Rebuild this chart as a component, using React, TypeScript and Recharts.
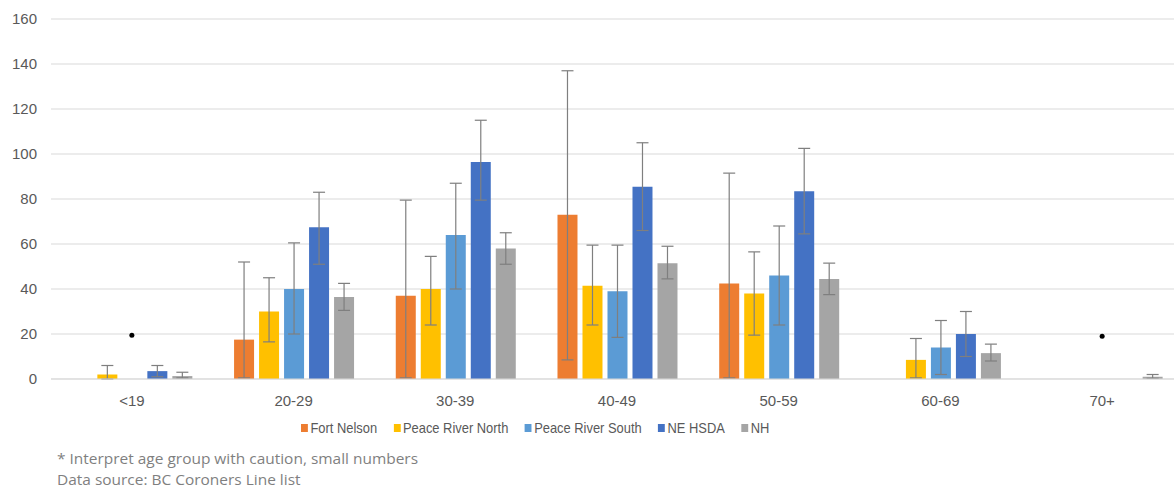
import { ComposedChart, Bar, Line, ErrorBar, XAxis, YAxis, CartesianGrid } from "recharts";

const categories = ["<19", "20-29", "30-39", "40-49", "50-59", "60-69", "70+"];

const fortNelson = [null, 17.5, 37, 73, 42.5, null, null];
const fortNelsonLow = [null, 0.5, 0.5, 8.5, 0.5, null, null];
const fortNelsonHigh = [null, 52, 79.5, 137, 91.5, null, null];

const peaceNorth = [2, 30, 40, 41.5, 38, 8.5, null];
const peaceNorthLow = [0, 16.5, 24, 24, 19.5, 0.5, null];
const peaceNorthHigh = [6, 45, 54.5, 59.5, 56.5, 18, null];

const peaceSouth = [null, 40, 64, 39, 46, 14, null];
const peaceSouthLow = [null, 20, 40, 18.5, 24, 2, null];
const peaceSouthHigh = [null, 60.5, 87, 59.5, 68, 26, null];

const neHsda = [3.5, 67.5, 96.5, 85.5, 83.5, 20, null];
const neHsdaLow = [1, 51, 79.5, 66, 64.5, 10, null];
const neHsdaHigh = [6, 83, 115, 105, 102.5, 30, null];

const nh = [1.3, 36.5, 58, 51.5, 44.5, 11.5, 1];
const nhLow = [0.5, 30.5, 51, 44.5, 37.5, 8, 0.3];
const nhHigh = [3, 42.5, 65, 59, 51.5, 15.5, 2];

// "*" caution markers
const caution = [19.5, null, null, null, null, null, 19];

const yTicks = [0, 20, 40, 60, 80, 100, 120, 140, 160];

const SERIES = [
  { key: "fortNelson", name: "Fort Nelson", color: "#ED7D31" },
  { key: "peaceNorth", name: "Peace River North", color: "#FFC000" },
  { key: "peaceSouth", name: "Peace River South", color: "#5B9BD5" },
  { key: "neHsda", name: "NE HSDA", color: "#4472C4" },
  { key: "nh", name: "NH", color: "#A5A5A5" },
];

function err(v: number | null, lo: number | null, hi: number | null) {
  if (v == null || lo == null || hi == null) return null;
  return [v - lo, hi - v];
}

const data = categories.map((c, i) => ({
  age: c,
  fortNelson: fortNelson[i],
  fortNelsonErr: err(fortNelson[i], fortNelsonLow[i], fortNelsonHigh[i]),
  peaceNorth: peaceNorth[i],
  peaceNorthErr: err(peaceNorth[i], peaceNorthLow[i], peaceNorthHigh[i]),
  peaceSouth: peaceSouth[i],
  peaceSouthErr: err(peaceSouth[i], peaceSouthLow[i], peaceSouthHigh[i]),
  neHsda: neHsda[i],
  neHsdaErr: err(neHsda[i], neHsdaLow[i], neHsdaHigh[i]),
  nh: nh[i],
  nhErr: err(nh[i], nhLow[i], nhHigh[i]),
  caution: caution[i],
}));

const AXIS_FONT = "'Liberation Sans', Arial, sans-serif";

export default function App() {
  return (
    <div
      style={{
        position: "absolute",
        left: 0,
        top: 0,
        width: 1174,
        height: 490,
        overflow: "hidden",
        background: "#fff",
      }}
    >
      <ComposedChart
        width={1184}
        height={410}
        data={data}
        margin={{ top: 19, right: 1, bottom: 0, left: 0 }}
        barGap={5}
        barCategoryGap="13.2%"
      >
        <CartesianGrid vertical={false} stroke="#D9D9D9" />
        <XAxis
          dataKey="age"
          axisLine={{ stroke: "#D9D9D9" }}
          tickLine={false}
          tickMargin={10}
          height={31}
          tick={{ fill: "#595959", fontSize: 15, fontFamily: AXIS_FONT }}
        />
        <YAxis
          domain={[0, 160]}
          ticks={yTicks}
          axisLine={false}
          tickLine={false}
          width={51}
          tickMargin={8}
          tick={{ fill: "#595959", fontSize: 15, fontFamily: AXIS_FONT }}
        />
        {SERIES.map((s) => (
          <Bar key={s.key} dataKey={s.key} name={s.name} fill={s.color} isAnimationActive={false}>
            <ErrorBar dataKey={`${s.key}Err`} width={6} stroke="#7F7F7F" strokeWidth={1.2} direction="y" />
          </Bar>
        ))}
        <Line
          dataKey="caution"
          stroke="none"
          dot={{ r: 2.5, fill: "#000", stroke: "none" }}
          activeDot={false}
          legendType="none"
          isAnimationActive={false}
        />
      </ComposedChart>

      {/* legend, squeezed to match the narrow original */}
      <div
        style={{
          position: "absolute",
          left: 301,
          top: 419,
          display: "flex",
          alignItems: "center",
          fontFamily: AXIS_FONT,
          fontSize: 15,
          color: "#595959",
          whiteSpace: "nowrap",
          transform: "scaleX(0.86)",
          transformOrigin: "left center",
        }}
      >
        {SERIES.map((s) => (
          <div key={s.key} style={{ display: "flex", alignItems: "center", marginRight: 19 }}>
            <span style={{ width: 8, height: 8, background: s.color, marginRight: 3, display: "inline-block" }} />
            <span>{s.name}</span>
          </div>
        ))}
      </div>

      <div
        style={{
          position: "absolute",
          left: 57,
          top: 448,
          fontFamily: "'Open Sans', sans-serif",
          fontSize: 15,
          lineHeight: "21px",
          color: "#7F7F7F",
          whiteSpace: "nowrap",
          transform: "scaleX(1.03)",
          transformOrigin: "left center",
        }}
      >
        <div>* Interpret age group with caution, small numbers</div>
        <div>Data source: BC Coroners Line list</div>
      </div>
    </div>
  );
}
